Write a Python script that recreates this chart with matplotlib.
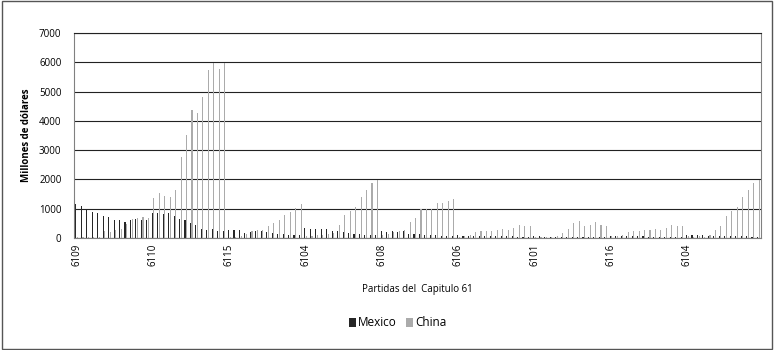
import matplotlib
matplotlib.use("Agg")
import matplotlib.pyplot as plt
from matplotlib.patches import Rectangle
import numpy as np

plt.rcParams['font.family'] = ['Open Sans', 'DejaVu Sans']

groups = ["6109", "6110", "6115", "6104", "6108", "6106", "6101", "6116", "6104"]
years_per_group = 14

mexico_6109 = [1160, 1090, 955, 886, 840, 750, 705, 614, 600, 545, 625, 648, 614, 614]
china_6109 = [20, 20, 25, 25, 40, 240, 205, 270, 307, 477, 648, 670, 705, 693]
mexico_6110 = [864, 864, 830, 864, 750, 659, 625, 523, 443, 295, 273, 295, 239, 239]
china_6110 = [1352, 1545, 1432, 1400, 1625, 2761, 3511, 4364, 4261, 4807, 5727, 5989, 5761, 5989]
mexico_6115 = [273, 273, 273, 160, 205, 250, 227, 205, 180, 150, 130, 110, 100, 90]
china_6115 = [40, 50, 60, 125, 250, 273, 273, 409, 500, 602, 773, 886, 1034, 1170]
mexico_6104 = [341, 318, 295, 295, 295, 250, 230, 200, 180, 150, 130, 110, 100, 90]
china_6104 = [60, 80, 100, 110, 130, 160, 443, 773, 920, 1068, 1398, 1636, 1886, 1966]
mexico_6108 = [239, 193, 227, 205, 250, 150, 130, 120, 110, 100, 90, 80, 70, 60]
china_6108 = [100, 150, 200, 250, 273, 545, 682, 989, 989, 989, 1205, 1205, 1261, 1318]
mexico_6106 = [90, 80, 80, 70, 70, 70, 60, 60, 60, 60, 60, 50, 50, 50]
china_6106 = [40, 70, 110, 193, 239, 250, 250, 273, 318, 273, 330, 443, 420, 420]
mexico_6101 = [60, 55, 50, 50, 45, 45, 40, 40, 40, 40, 35, 35, 30, 30]
china_6101 = [50, 40, 40, 40, 60, 160, 318, 511, 568, 398, 443, 534, 443, 398]
mexico_6116 = [70, 70, 60, 60, 60, 55, 55, 50, 50, 50, 45, 45, 40, 40]
china_6116 = [60, 70, 114, 193, 239, 239, 261, 284, 307, 273, 330, 443, 420, 409]
mexico_6104b = [110, 100, 90, 90, 80, 80, 70, 70, 60, 60, 55, 55, 50, 50]
china_6104b = [60, 40, 80, 50, 90, 273, 409, 761, 909, 1068, 1386, 1625, 1864, 1977]

mexico = (mexico_6109 + mexico_6110 + mexico_6115 + mexico_6104 + mexico_6108 +
          mexico_6106 + mexico_6101 + mexico_6116 + mexico_6104b)
china = (china_6109 + china_6110 + china_6115 + china_6104 + china_6108 +
         china_6106 + china_6101 + china_6116 + china_6104b)

yticks = [0, 1000, 2000, 3000, 4000, 5000, 6000, 7000]

n = len(mexico)
x = np.arange(n)

fig = plt.figure(figsize=(7.74, 3.5), dpi=100)
ax = fig.add_axes([74/774, 1-238/350, (761-74)/774, (238-33)/350])

bw = 0.2
off = 0.15
ax.bar(x - off, mexico, width=bw, color='#262626', label='Mexico', linewidth=0)
ax.bar(x + off, china, width=bw, color='#ababab', label='China', linewidth=0)

ax.set_xlim(-0.5, n - 0.5)
ax.set_ylim(0, 7000)
ax.set_yticks(yticks)
ax.set_yticklabels([str(v) for v in yticks], fontsize=7)
ax.yaxis.grid(True, color='#222222', linewidth=0.8)
ax.set_axisbelow(True)

tick_pos = [i * years_per_group for i in range(len(groups))]
ax.set_xticks(tick_pos)
ax.set_xticklabels(groups, rotation=90, fontsize=7)
ax.tick_params(axis='both', length=0, pad=4)
ax.tick_params(axis='y', pad=9)

for s in ['left', 'right', 'bottom']:
    ax.spines[s].set_color('#808080')
    ax.spines[s].set_linewidth(0.8)
ax.spines['top'].set_color('#222222')
ax.spines['top'].set_linewidth(0.8)

ax.set_ylabel('Millones de dólares', fontsize=7, fontweight='bold', labelpad=5)
ax.set_xlabel('Partidas del  Capitulo 61', fontsize=7, labelpad=13)

leg = fig.legend(loc='center', bbox_to_anchor=(398/774, 1-323/350), ncol=2, frameon=False,
                 fontsize=8.5, handlelength=0.6, handleheight=0.9, handletextpad=0.15,
                 columnspacing=0.8)

fig.patches.append(Rectangle((0.002, 0.003), 0.996, 0.994, transform=fig.transFigure,
                             fill=False, edgecolor='#555555', linewidth=1))

fig.savefig('out.png', dpi=100)
